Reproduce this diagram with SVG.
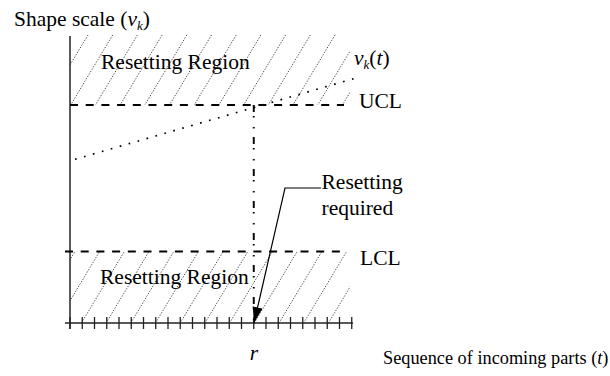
<svg xmlns="http://www.w3.org/2000/svg" width="610" height="376" viewBox="0 0 610 376">
  <style>
    text { font-family: "Liberation Serif", "Times New Roman", serif; fill: #000; }
    .lbl { font-size: 21.5px; }
    .small { font-size: 18.3px; }
    .it { font-style: italic; }
    .sub { font-size: 13px; font-style: italic; }
    .hatch { stroke: #4a4a4a; stroke-width: 1; stroke-dasharray: 1.3 1.5; fill: none; }
    .axis { stroke: #222; stroke-width: 1.5; fill: none; }
    .tick { stroke: #222; stroke-width: 1.3; }
    .limit { stroke: #000; stroke-width: 2; stroke-dasharray: 8 7.7; fill: none; }
    .trend { stroke: #000; stroke-width: 1.7; stroke-dasharray: 1.7 7.6; fill: none; }
    .drop { stroke: #000; stroke-width: 1.9; stroke-dasharray: 7 4 1.5 9.5 1.5 8.5; fill: none; }
    .leader { stroke: #000; stroke-width: 1.2; fill: none; }
  </style>
  <defs>
    <clipPath id="clipUpper"><rect x="70" y="34" width="280" height="71"/></clipPath>
    <clipPath id="clipLower"><rect x="70" y="251" width="280" height="72"/></clipPath>
    <marker id="arrowHead" markerUnits="userSpaceOnUse" markerWidth="18" markerHeight="12" refX="16" refY="5" orient="auto">
      <path d="M0,0 L16,5 L0,10 Z" fill="#000"/>
    </marker>
  </defs>

  <!-- hatched resetting regions -->
  <g id="upper-region">
    <g class="hatch" clip-path="url(#clipUpper)">
      <path d="M88,35 l-42,70 M112.7,35 l-42,70 M137.4,35 l-42,70 M162.1,35 l-42,70 M186.8,35 l-42,70 M211.5,35 l-42,70 M236.2,35 l-42,70 M260.9,35 l-42,70 M285.6,35 l-42,70 M310.3,35 l-42,70 M335,35 l-42,70 M359.7,35 l-42,70 M384.4,35 l-42,70"/>
    </g>
    <text class="lbl" x="101" y="69">Resetting Region</text>
  </g>
  <g id="lower-region">
    <g class="hatch" clip-path="url(#clipLower)">
      <path d="M32,323 l43.2,-72 M56.7,323 l43.2,-72 M81.4,323 l43.2,-72 M106.1,323 l43.2,-72 M130.8,323 l43.2,-72 M155.5,323 l43.2,-72 M180.2,323 l43.2,-72 M204.9,323 l43.2,-72 M229.6,323 l43.2,-72 M254.3,323 l43.2,-72 M279,323 l43.2,-72 M303.7,323 l43.2,-72 M328.4,323 l43.2,-72"/>
    </g>
    <text class="lbl" x="100" y="284">Resetting Region</text>
  </g>

  <!-- axes -->
  <g id="axes">
    <path class="axis" d="M70,36 V329"/>
    <path class="axis" d="M65,323 H353"/>
    <g class="tick">
      <path d="M70,317 v12 M82.25,317 v12 M94.5,317 v12 M106.75,317 v12 M119,317 v12 M131.25,317 v12 M143.5,317 v12 M155.75,317 v12 M168,317 v12 M180.25,317 v12 M192.5,317 v12 M204.75,317 v12 M217,317 v12 M229.25,317 v12 M241.5,317 v12 M253.75,317 v12 M266,317 v12 M278.25,317 v12 M290.5,317 v12 M302.75,317 v12 M315,317 v12 M327.25,317 v12 M339.5,317 v12 M351.75,317 v12"/>
    </g>
    <text class="lbl" x="14" y="26">Shape scale (<tspan class="it">v</tspan><tspan class="sub" dy="4">k</tspan><tspan dy="-4">)</tspan></text>
    <text class="small" x="383" y="364">Sequence of incoming parts (<tspan class="it">t</tspan>)</text>
    <text class="lbl it" x="254" y="360" text-anchor="middle">r</text>
  </g>

  <!-- control limits -->
  <g id="ucl">
    <path class="limit" d="M70,105 H344"/>
    <text class="lbl" x="359" y="108">UCL</text>
  </g>
  <g id="lcl">
    <path class="limit" d="M65,251.5 H345"/>
    <text class="lbl" x="360" y="265">LCL</text>
  </g>

  <!-- shape scale trend -->
  <g id="trend">
    <path class="trend" d="M75,159.3 L356,78"/>
    <text class="lbl" x="354" y="65"><tspan class="it">v</tspan><tspan class="sub" dy="4">k</tspan><tspan dy="-4">(</tspan><tspan class="it">t</tspan>)</text>
  </g>

  <g id="resetting-note">
    <text class="lbl" x="321.5" y="189">Resetting</text>
    <text class="lbl" x="321.5" y="215">required</text>
  </g>

  <!-- connectors -->
  <g id="connectors">
    <path class="drop" d="M253.75,105 V323"/>
    <path class="leader" d="M321,188 H285 L254,323" marker-end="url(#arrowHead)"/>
  </g>
</svg>
